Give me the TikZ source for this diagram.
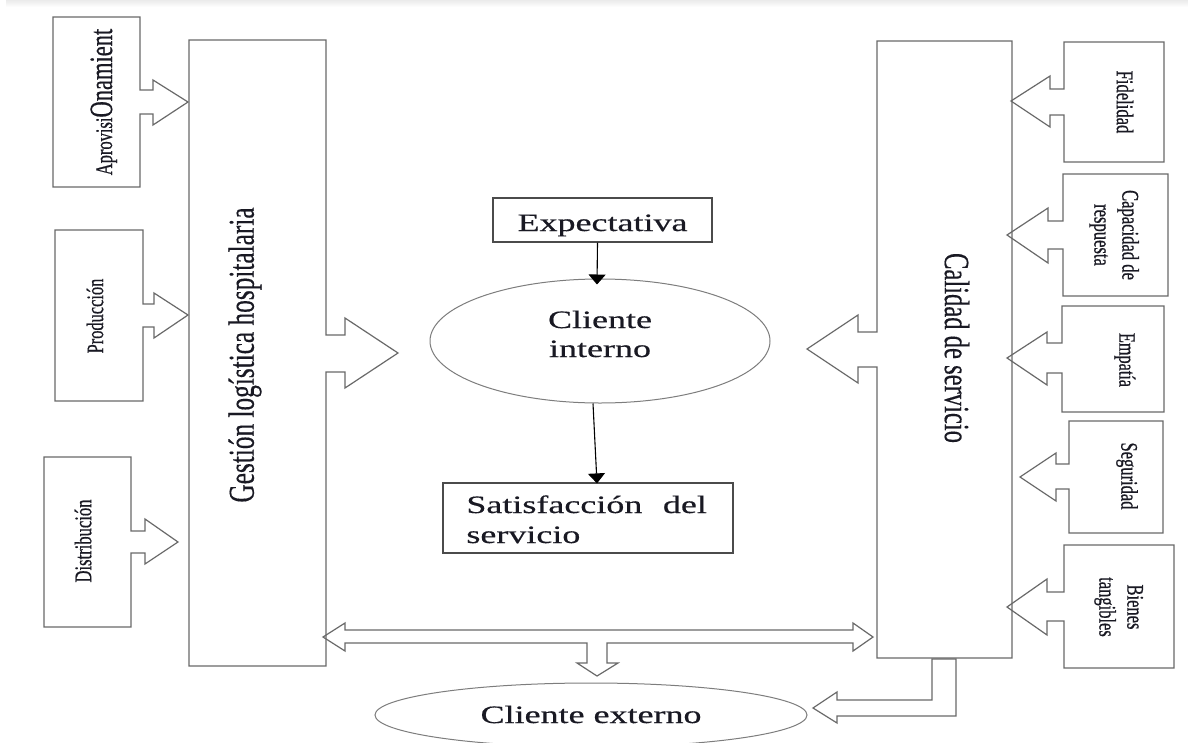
\documentclass[tikz,border=0pt]{standalone}
\usepackage{fontspec}
\setmainfont{Liberation Serif}
\newfontfamily\smallserif[FakeBold=0.8]{Liberation Serif}
\newfontfamily\largeserif[FakeBold=0.4]{Liberation Serif}
\usepackage{graphicx}
\usetikzlibrary{arrows.meta,shapes.geometric}
\definecolor{edge}{RGB}{105,105,105}
\definecolor{ink}{RGB}{25,25,35}
\definecolor{frame}{RGB}{75,75,75}
\definecolor{rim}{RGB}{125,125,125}
% the whole figure is stretched horizontally
\newcommand\wideText[1]{\scalebox{1.44}[1]{#1}}
\newcommand\tallText[1]{\scalebox{1}[1.44]{#1}}
\newcommand\setfs[2]{\fontsize{#1}{#2}\selectfont}

\begin{document}
\begin{tikzpicture}[x=1pt,y=-1pt,
  outline/.style={draw=edge,line width=1.2pt,line join=miter},
  lbl/.style={text=ink,inner sep=0pt,outer sep=0pt,font=\largeserif},
  small/.style={lbl,font=\smallserif},
  conn/.style={draw=black,line width=1.1pt,-{Triangle[width=17pt,length=10pt]}},
  framebox/.style={draw=frame,line width=1.2pt,inner sep=0pt,rectangle},
  oval/.style={draw=rim,line width=1pt,ellipse,inner sep=0pt},
]
\path[use as bounding box] (0,0) rectangle (1188,742);
\clip (0,0) rectangle (1188,742);
\fill[white] (0,0) rectangle (1188,742);
\shade[top color=gray!16,bottom color=white] (6,0) rectangle (1188,7);

% ---- left column: inputs feeding the logistics block
\draw[outline] (53,17) -- (140,17) -- (140,90) -- (153,90) -- (153,80) -- (188,102)
  -- (153,125) -- (153,114) -- (140,114) -- (140,187) -- (53,187) -- cycle;
\draw[outline] (55,230) -- (143,230) -- (143,304) -- (154,304) -- (154,293) -- (188,315)
  -- (154,338) -- (154,327) -- (143,327) -- (143,401) -- (55,401) -- cycle;
\draw[outline] (44,457) -- (131,457) -- (131,531) -- (145,531) -- (145,519) -- (178,542)
  -- (145,564) -- (145,553) -- (131,553) -- (131,627) -- (44,627) -- cycle;

% ---- logistics block with its arrow towards the internal client
\draw[outline] (189,40) -- (326,40) -- (326,335) -- (345,335) -- (345,318) -- (398,353)
  -- (345,388) -- (345,372) -- (326,372) -- (326,666) -- (189,666) -- cycle;

% ---- service quality block with its arrow towards the internal client
\draw[outline] (877,41) -- (1012,41) -- (1012,658) -- (877,658) -- (877,367) -- (858,367)
  -- (858,383) -- (807,349) -- (858,315) -- (858,332) -- (877,332) -- cycle;

% ---- right column: dimensions of service quality
\draw[outline] (1064,42) -- (1164,42) -- (1164,162) -- (1064,162) -- (1064,115) -- (1050,115)
  -- (1050,127) -- (1011,101) -- (1050,76) -- (1050,89) -- (1064,89) -- cycle;
\draw[outline] (1063,174) -- (1168,174) -- (1168,296) -- (1063,296) -- (1063,249) -- (1048,249)
  -- (1048,263) -- (1007,235) -- (1048,208) -- (1048,221) -- (1063,221) -- cycle;
\draw[outline] (1062,306) -- (1164,306) -- (1164,412) -- (1062,412) -- (1062,373) -- (1047,373)
  -- (1047,385) -- (1007,358) -- (1047,332) -- (1047,343) -- (1062,343) -- cycle;
\draw[outline] (1069,421) -- (1163,421) -- (1163,533) -- (1069,533) -- (1069,489) -- (1056,489)
  -- (1056,501) -- (1020,477) -- (1056,453) -- (1056,464) -- (1069,464) -- cycle;
\draw[outline] (1064,545) -- (1174,545) -- (1174,668) -- (1064,668) -- (1064,621) -- (1047,621)
  -- (1047,635) -- (1007,607) -- (1047,579) -- (1047,592) -- (1064,592) -- cycle;

% ---- two-way link between both blocks, branching down to the external client
\draw[outline] (323,637) -- (345,623) -- (345,630) -- (853,630) -- (853,623) -- (873,637)
  -- (853,651) -- (853,643) -- (607,643) -- (607,663) -- (618,663) -- (597,676)
  -- (577,663) -- (587,663) -- (587,643) -- (345,643) -- (345,651) -- cycle;

% ---- bent arrow from the quality block to the external client
\draw[outline] (932,659) -- (956,659) -- (956,716) -- (837,716) -- (837,723) -- (813,708)
  -- (837,692) -- (837,700) -- (932,700) -- cycle;

% ---- central chain
\node[framebox,minimum width=219pt,minimum height=44pt] (exp) at (602.5,220) {};
\node[lbl,anchor=base] (exptxt) at ([yshift=-11pt]exp.center)
  {\wideText{\setfs{25}{30}Expectativa}};

\node[oval,minimum width=340pt,minimum height=124pt] (ci) at (600,341) {};
\node[lbl,anchor=base] (citxt) at ([yshift=13pt]ci.center)
  {\wideText{\setfs{25}{29}\begin{tabular}[t]{@{}c@{}}Cliente\\interno\end{tabular}}};

\node[framebox,minimum width=290pt,minimum height=70pt] (sat) at (588,518) {};
\node[lbl,anchor=base west] (sattxt) at ([xshift=24pt,yshift=5pt]sat.west)
  {\wideText{\setfs{25}{30}\begin{tabular}[t]{@{}l@{}}\makebox[167pt][s]{Satisfacción\hfill del}\\servicio\end{tabular}}};

\node[oval,minimum width=432pt,minimum height=64pt] (ce) at (591,715) {};
\node[lbl,anchor=base] (cetxt) at ([yshift=-8pt]ce.center)
  {\wideText{\setfs{25}{30}Cliente externo}};

\draw[conn] ([xshift=-5pt]exp.south) -- ([xshift=-3pt,yshift=-6pt]ci.north);
\draw[conn] ([xshift=-7pt]ci.south) -- ([xshift=9pt,yshift=-1pt]sat.north);

% ---- rotated labels, left side
\node[lbl,rotate=90] (gtxt) at (245,355)
  {\tallText{\setfs{25.3}{30}Gestión logística hospitalaria}};
\node[small,rotate=90,anchor=base] (atxt) at (112,102)
  {\tallText{\setfs{16.5}{20}Aprovisi\setfs{22.5}{26}Onamient}};
\node[small,rotate=90] (ptxt) at (95,316) {\tallText{\setfs{16.4}{20}Producción}};
\node[small,rotate=90] (dtxt) at (83,541) {\tallText{\setfs{16.6}{20}Distribución}};

% ---- rotated labels, right side
\node[lbl,rotate=-90] (qtxt) at (957,348)
  {\tallText{\setfs{24.6}{30}Calidad de servicio}};
\node[small,rotate=-90] (ftxt) at (1125,102) {\tallText{\setfs{16.6}{20}Fidelidad}};
\node[small,rotate=-90] (rtxt) at (1114,235)
  {\tallText{\setfs{16.6}{19.4}\begin{tabular}{@{}c@{}}Capacidad de\\respuesta\end{tabular}}};
\node[small,rotate=-90] (etxt) at (1125,360) {\tallText{\setfs{16.2}{20}Empatía}};
\node[small,rotate=-90] (stxt) at (1127,476) {\tallText{\setfs{16.5}{20}Seguridad}};
\node[small,rotate=-90] (btxt) at (1119,607)
  {\tallText{\setfs{16.5}{19.4}\begin{tabular}{@{}c@{}}Bienes\\tangibles\end{tabular}}};
\end{tikzpicture}
\end{document}
